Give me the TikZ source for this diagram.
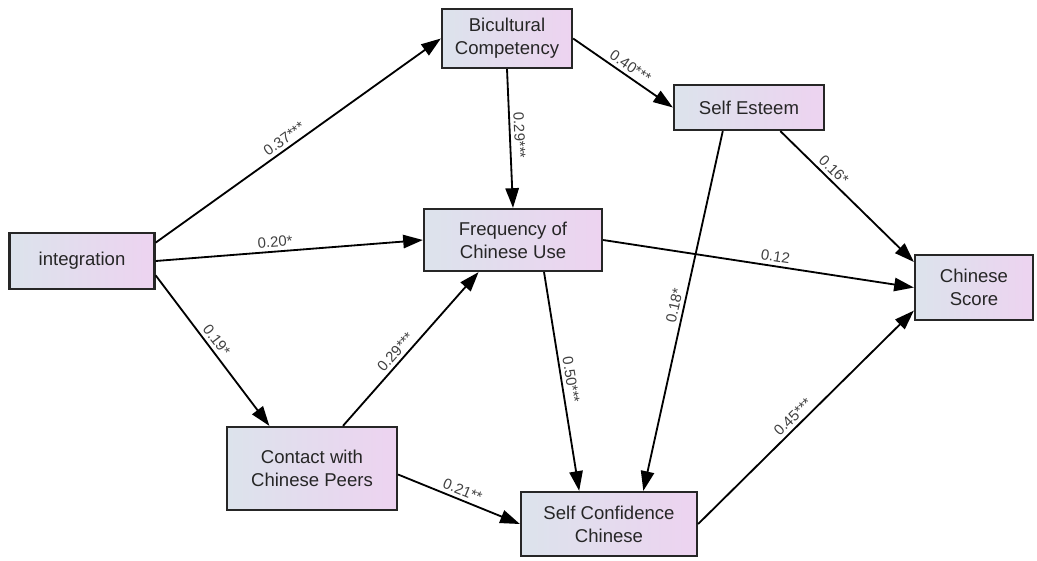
\documentclass[tikz,border=0pt]{standalone}
\usepackage{fontspec}
\setmainfont{Liberation Sans}
\usetikzlibrary{arrows.meta}

\newcommand*{\picw}{1037}
\newcommand*{\pich}{560}
\newcommand*{\unitpx}{0.025cm}

\begin{document}
\begin{tikzpicture}
[
	x=\unitpx,y=\unitpx,
	varbox/.style={rectangle,draw=black!85,line width=1.6pt,left color=boxleft,right color=boxright,
		align=center,inner sep=0pt,font=\fontsize{13.2}{16.4}\selectfont,text=black!85},
	effect/.style={line width=1.3pt,-{Triangle[length=14pt,width=9.5pt]}},
	coef/.style={sloped,above,font=\fontsize{10.6}{12}\selectfont,text=black!75,inner sep=2.5pt}
]
	\definecolor{boxleft}{HTML}{DCE3EC}
	\definecolor{boxright}{HTML}{EDD3F0}

	% frame
	\useasboundingbox (0,0) rectangle (\picw,-\pich);

	% variables
	\node[varbox,minimum width=145*\unitpx,minimum height=56*\unitpx] (int) at (82,-261) {integration};
	\node[varbox,minimum width=130*\unitpx,minimum height=59*\unitpx] (bic) at (507,-38.5) {Bicultural\\Competency};
	\node[varbox,minimum width=150*\unitpx,minimum height=45*\unitpx] (se) at (749,-107.5) {Self Esteem};
	\node[varbox,minimum width=178*\unitpx,minimum height=62*\unitpx] (freq) at (513,-240) {Frequency of\\Chinese Use};
	\node[varbox,minimum width=118*\unitpx,minimum height=65*\unitpx] (cs) at (974,-287.5) {Chinese\\Score};
	\node[varbox,minimum width=170*\unitpx,minimum height=83*\unitpx] (contact) at (312,-468.5) {Contact with\\Chinese Peers};
	\node[varbox,minimum width=176*\unitpx,minimum height=64*\unitpx] (sc) at (609,-524) {Self Confidence\\Chinese};

	% paths
	\draw[effect] (int.14) -- node[coef,pos=0.47] {0.37***} (bic.west);
	\draw[effect] (int.east) -- node[coef,pos=0.45] {0.20*} (freq.west);
	\draw[effect] (int.-11) -- node[coef,pos=0.47] {0.19*} (contact.135);
	\draw[effect] (bic.south) -- node[coef,pos=0.48] {0.29***} (freq.north);
	\draw[effect] (bic.east) -- node[coef,pos=0.52] {0.40***} (se.west);
	\draw[effect] (se.-37) -- node[coef,pos=0.35] {0.16*} (cs.157);
	\draw[effect] (se.-138) -- node[coef,pos=0.49] {0.18*} (sc.44);
	\draw[effect] (freq.east) -- node[coef,pos=0.55] {0.12} (cs.west);
	\draw[effect] (freq.-46) -- node[coef,pos=0.5] {0.50***} (sc.132);
	\draw[effect] (contact.54) -- node[coef,pos=0.44] {0.29***} (freq.-137);
	\draw[effect] (contact.-4) -- node[coef,pos=0.5] {0.21**} (sc.west);
	\draw[effect] (sc.east) -- node[coef,pos=0.47] {0.45***} (cs.-159);

\end{tikzpicture}
\end{document}
